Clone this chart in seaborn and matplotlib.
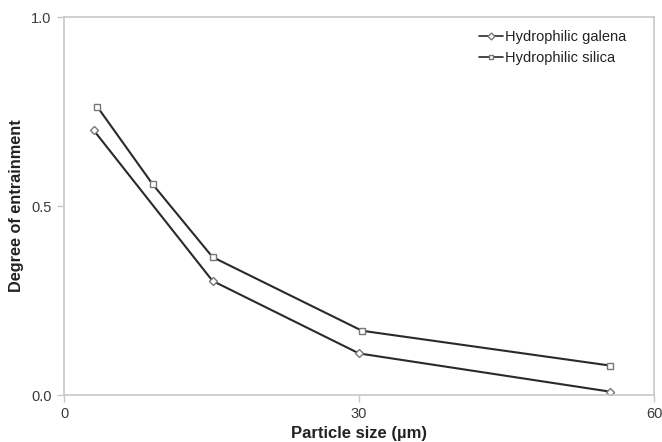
import matplotlib
matplotlib.use("Agg")
import matplotlib.pyplot as plt
import seaborn as sns
import pandas as pd

galena_x = [3.0, 15.1, 30.0, 55.5]
galena_y = [0.701, 0.302, 0.110, 0.009]
silica_x = [3.4, 9.0, 15.1, 30.3, 55.5]
silica_y = [0.762, 0.558, 0.365, 0.170, 0.078]
series_names = ["Hydrophilic galena", "Hydrophilic silica"]

sns.set_theme(style="white")
plt.rcParams['font.family'] = ['Liberation Sans', 'DejaVu Sans']

fig = plt.figure(figsize=(6.62, 4.42), dpi=100)
ax = fig.add_axes([0.0967, 0.1063, 0.8913, 0.8552])

df_g = pd.DataFrame({"x": galena_x, "y": galena_y})
df_s = pd.DataFrame({"x": silica_x, "y": silica_y})

sns.lineplot(data=df_g, x="x", y="y", ax=ax, color="#2a2a2a", linewidth=1.5,
             marker="D", markersize=4.5, markerfacecolor="white",
             markeredgecolor="#777777", markeredgewidth=1.0,
             label=series_names[0])
sns.lineplot(data=df_s, x="x", y="y", ax=ax, color="#2a2a2a", linewidth=1.5,
             marker="s", markersize=5, markerfacecolor="white",
             markeredgecolor="#777777", markeredgewidth=1.0,
             label=series_names[1])

ax.set_xlim(0, 60)
ax.set_ylim(0, 1.0)
ax.set_xticks([0, 30, 60])
ax.set_yticks([0.0, 0.5, 1.0])
ax.set_yticklabels(["0.0", "0.5", "1.0"])
for s in ax.spines.values():
    s.set_color("#c8c8c8")
    s.set_linewidth(1.2)
ax.tick_params(axis="both", which="both", length=5, width=1, color="#c8c8c8",
               direction="out", labelsize=10.5, labelcolor="#3a3a3a",
               left=True, bottom=True)
ax.tick_params(axis="y", pad=4)
ax.set_xlabel("Particle size (µm)", fontsize=12, fontweight="bold",
              color="#222222", labelpad=4)
ax.set_ylabel("Degree of entrainment", fontsize=11.7, fontweight="bold",
              color="#222222", labelpad=5)

leg = ax.legend(loc="upper right", bbox_to_anchor=(0.975, 1.0), frameon=False,
                fontsize=10.5, handlelength=1.6, handletextpad=0.15,
                labelspacing=0.45)
for h in leg.legend_handles:
    h.set_markersize(3.5)
    h.set_linewidth(1.2)
for t in leg.get_texts():
    t.set_color("#222222")

fig.savefig("out.png", dpi=100)
